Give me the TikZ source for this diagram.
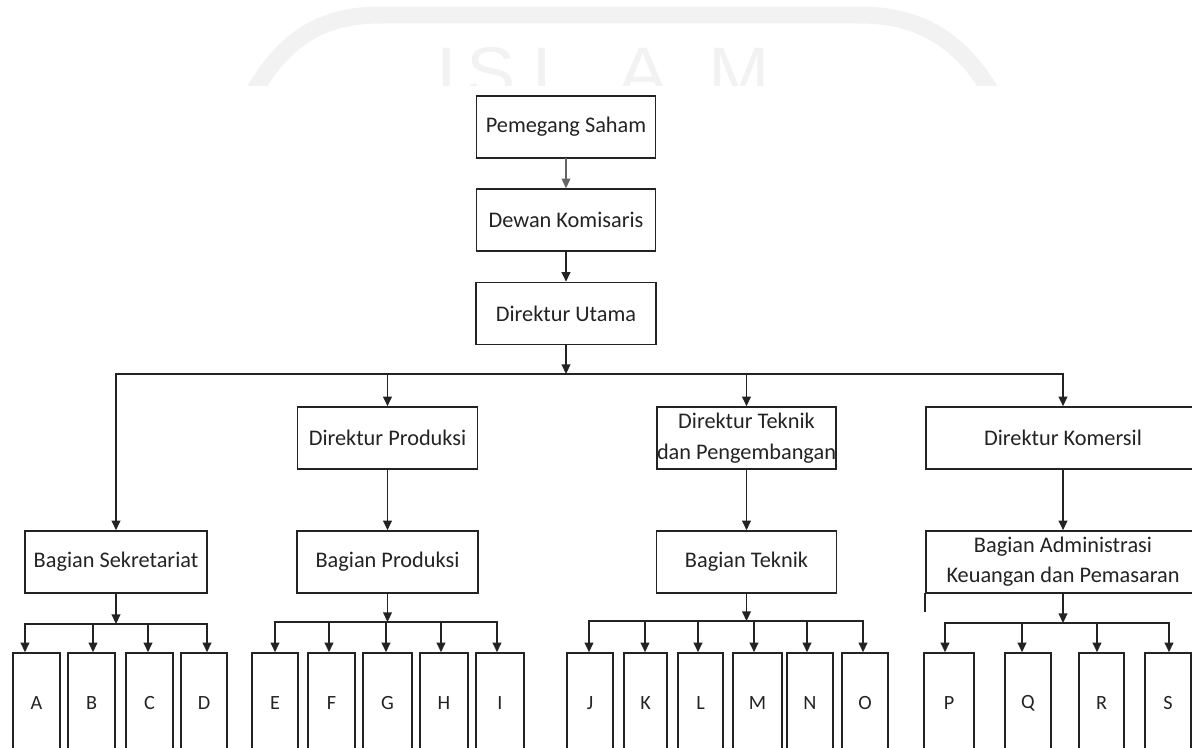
\documentclass[tikz,border=0pt]{standalone}
\usepackage{fontspec}
\setmainfont{Carlito}
\newfontfamily\wmfont{Liberation Sans}
\usetikzlibrary{arrows.meta}
\definecolor{ink}{RGB}{35,35,35}
\definecolor{wmark}{RGB}{242,242,242}

\begin{document}
\begin{tikzpicture}[x=0.02cm,y=-0.02cm,>={Triangle[length=5.5pt,width=5pt]},
  line width=0.9pt,line cap=rect,color=ink,
  font=\fontsize{12.7}{18}\selectfont,
  box/.style={draw,rectangle,inner sep=0pt,align=center,minimum height=62*0.02cm},
  leaf/.style={draw,rectangle,inner sep=0pt,font=\fontsize{11.5}{13}\selectfont,minimum height=100*0.02cm},
  wm/.style={wmark,font=\wmfont\fontsize{40}{40}\selectfont,inner sep=0pt,anchor=north west,xscale=1.05}]
\useasboundingbox (0,0) rectangle (1192,747);
\clip (0,0) rectangle (1192,747);

% faint watermark behind the chart
\begin{scope}
\clip (0,0) rectangle (1192,85);
\draw[wmark,line width=0.34cm,line cap=butt] (240,120) .. controls (275,40) and (320,15) .. (380,15) -- (860,15) .. controls (920,15) and (970,40) .. (1005,120);
\node[wm] at (436,47) {I};
\node[wm] at (466,47) {S};
\node[wm] at (532,47) {L};
\node[wm] at (618,47) {A};
\node[wm] at (708,47) {M};
\end{scope}

% top of the chart
\node[box,minimum width=179*0.02cm] (ps) at (566,127) {Pemegang Saham};
\node[box,minimum width=179*0.02cm] (dk) at (566,220) {Dewan Komisaris};
\node[box,minimum width=180*0.02cm] (du) at (566,313.5) {Direktur Utama};

% directors
\node[box,minimum width=180*0.02cm] (dp) at (387.5,438) {Direktur Produksi};
\node[box,minimum width=179*0.02cm] (dt) at (746.5,438) {Direktur Teknik\\dan Pengembangan};
\node[box,minimum width=274*0.02cm] (dkm) at (1063,438) {Direktur Komersil};

% departments
\node[box,minimum width=182*0.02cm] (bs) at (116,562) {Bagian Sekretariat};
\node[box,minimum width=181*0.02cm] (bp) at (387.5,562) {Bagian Produksi};
\node[box,minimum width=180*0.02cm] (bt) at (746.5,562) {Bagian Teknik};
\node[box,minimum width=274*0.02cm,font=\fontsize{12.7}{17}\selectfont] (ba) at (1063,562) {Bagian Administrasi\\Keuangan dan Pemasaran};
\draw (ba.south west) -- ++(0,17);

% units A..S
\foreach \k/\l/\r/\a/\y in {A/13/60/25/624,B/68/115/93/624,C/126/173/148/624,D/181/227/207/624,
  E/252/298/275/622,F/308/355/329/622,G/363/412/386/622,H/420/468/441/622,I/476/524/497/622,
  J/567/613/589/621,K/624/667/645/621,L/678/723/698/621,M/733/782/754/621,N/787/833/807/621,O/842/888/863/621,
  P/924/974/945/623,Q/1005/1051/1022/623,R/1079/1124/1097/623,S/1145/1191/1169/623}{
  \node[leaf,minimum width={(\r-\l)*0.02cm}] (\k) at ({(\l+\r)/2},703) {\k};
  \coordinate (\k-t) at (\a,\y);
  \draw[->] (\k-t) -- (\k-t |- \k.north);
}

% connectors
\draw[->,line width=0.6pt,ink!70] (ps) -- (dk);
\draw[->] (dk) -- (du);
\coordinate (bus) at (566,374);
\draw[->] (du) -- (bus);
\draw[->] (bus) -| (bs);
\draw[->] (bus) -| (dkm);
\draw[->] (bus -| dp) -- (dp);
\draw[->] (bus -| dt) -- (dt);
\draw[->] (dp) -- (bp);
\draw[->] (dt) -- (bt);
\draw[->] (dkm) -- (ba);

\coordinate (bsb) at (116,624);
\coordinate (bpb) at (387.5,622);
\coordinate (btb) at (746.5,621);
\coordinate (bab) at (1063,623);
\draw[->] (bs) -- (bsb);
\draw[->] (bp) -- (bpb);
\draw[->] (bt) -- (btb);
\draw[->] (ba) -- (bab);
\draw (A-t) -- (D-t);
\draw (E-t) -- (I-t);
\draw (J-t) -- (O-t);
\draw (P-t) -- (S-t);
\end{tikzpicture}
\end{document}
